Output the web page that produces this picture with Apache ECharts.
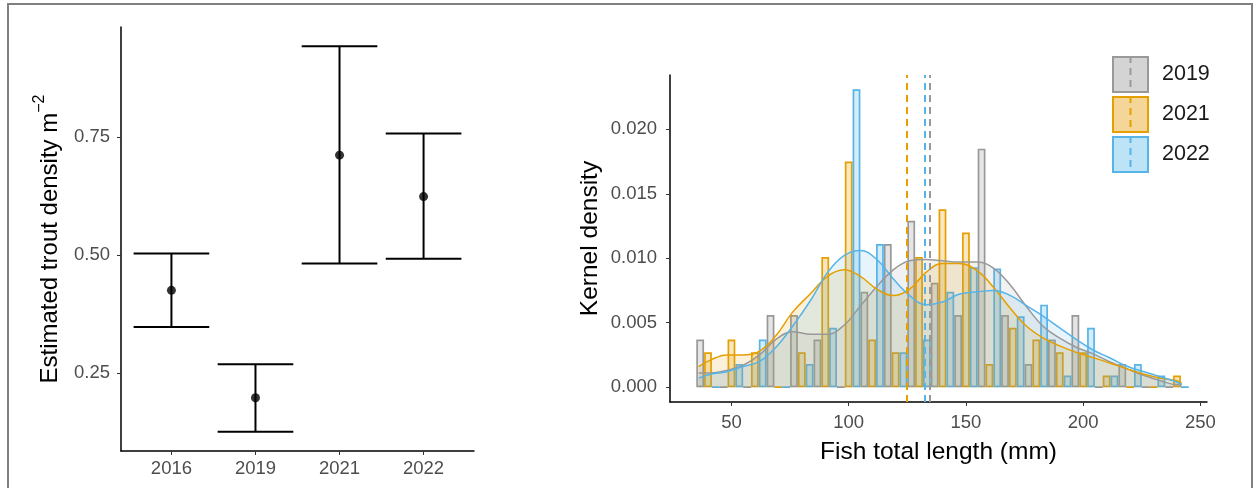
<!DOCTYPE html>
<html>
<head>
<meta charset="utf-8">
<script src="https://cdn.jsdelivr.net/npm/echarts@6/dist/echarts.min.js"></script>
<style>
  html, body { margin: 0; padding: 0; background: #fff; }
  #main { width: 1257px; height: 488px; }
</style>
</head>
<body>
<div id="main"></div>
<script>
// left panel: estimated trout density per survey year
var surveyYears = ['2016', '2019', '2021', '2022'];
var densityEst = [0.425, 0.197, 0.712, 0.624];
var densityLow = [0.347, 0.125, 0.482, 0.492];
var densityHigh = [0.503, 0.268, 0.943, 0.758];

// right panel: length histograms (density scale), binwidth 10 mm
var binMid = [40, 50, 60, 70, 80, 90, 100, 110, 120, 130, 140, 150, 160, 170, 180, 190, 200, 210, 220, 230, 240];
var hist2019 = [0.0037, 0, 0, 0.0056, 0.0056, 0.0037, 0, 0.0074, 0.0111, 0.0129, 0.0081, 0.0056, 0.0185, 0.0056, 0.0018, 0.0037, 0.0056, 0, 0.0018, 0, 0];
var hist2021 = [0.0027, 0.0037, 0.0027, 0, 0.0027, 0.0101, 0.0175, 0.0037, 0.0027, 0.0101, 0.0138, 0.0120, 0.0018, 0.0046, 0.0037, 0.0027, 0.0027, 0.0009, 0, 0, 0.0009];
var hist2022 = [0, 0.0018, 0.0037, 0, 0.0018, 0.0046, 0.0231, 0.0111, 0.0027, 0.0037, 0.0074, 0.0093, 0.0092, 0.0055, 0.0064, 0.0009, 0.0046, 0.0009, 0.0018, 0.0009, 0];

// kernel density curves
var kdeX = [36, 41, 48, 55, 62, 69, 76, 84, 91, 98, 105, 112, 119, 126, 133, 140, 147, 155, 162, 169, 176, 183, 190, 197, 204, 211, 219, 226, 233, 240, 242];
var kde2019 = [0.0011, 0.0011, 0.0013, 0.0017, 0.0025, 0.0037, 0.0043, 0.0041, 0.0041, 0.0048, 0.0063, 0.0078, 0.0091, 0.0098, 0.0099, 0.0098, 0.0097, 0.0097, 0.0092, 0.0079, 0.0062, 0.0047, 0.0038, 0.0031, 0.0026, 0.0020, 0.0014, 0.0009, 0.0005, 0.0002, 0.0002];
var kde2021 = [0.0016, 0.0021, 0.0025, 0.0025, 0.0028, 0.0040, 0.0058, 0.0073, 0.0086, 0.0091, 0.0086, 0.0076, 0.0071, 0.0076, 0.0089, 0.0096, 0.0096, 0.0090, 0.0077, 0.0061, 0.0047, 0.0038, 0.0032, 0.0027, 0.0023, 0.0019, 0.0014, 0.0010, 0.0007, 0.0005, 0.0003];
var kde2022 = [0.0007, 0.0010, 0.0012, 0.0016, 0.0020, 0.0031, 0.0047, 0.0068, 0.0089, 0.0102, 0.0106, 0.0099, 0.0084, 0.0071, 0.0064, 0.0066, 0.0072, 0.0074, 0.0075, 0.0071, 0.0063, 0.0055, 0.0046, 0.0037, 0.0029, 0.0023, 0.0016, 0.0012, 0.0008, 0.0004, 0.0002];

// mean lengths (dashed lines)
var meanLength = { '2019': 134.6, '2021': 124.7, '2022': 132.4 };

var lenYears = ['2019', '2021', '2022'];
var lineCol = { '2019': '#999999', '2021': '#E69F00', '2022': '#56B4E9' };
var barFill = { '2019': 'rgba(153,153,153,0.25)', '2021': 'rgba(230,159,0,0.25)', '2022': 'rgba(86,180,233,0.25)' };
var areaFill = { '2019': 'rgba(153,153,153,0.2)', '2021': 'rgba(230,159,0,0.2)', '2022': 'rgba(86,180,233,0.2)' };
var keyFill = { '2019': '#d4d4d4', '2021': '#f5d699', '2022': '#bde3f7' };
var histBy = { '2019': hist2019, '2021': hist2021, '2022': hist2022 };
var kdeBy = { '2019': kde2019, '2021': kde2021, '2022': kde2022 };

var FONT = '"Liberation Sans", Arial, sans-serif';

function pairs(xs, ys) {
  return xs.map(function (x, i) { return [x, ys[i]]; });
}

function keyIcon(yr) {
  var svg = '<svg xmlns="http://www.w3.org/2000/svg" width="37" height="37" viewBox="0 0 37 37">' +
    '<rect x="1" y="1" width="35" height="35" fill="' + keyFill[yr] + '" stroke="' + lineCol[yr] + '" stroke-width="2"/>' +
    '<line x1="18.5" y1="0" x2="18.5" y2="37" stroke="' + lineCol[yr] + '" stroke-width="2" stroke-dasharray="7,5"/>' +
    '</svg>';
  return 'image://data:image/svg+xml;charset=utf-8,' + encodeURIComponent(svg);
}

var chart = echarts.init(document.getElementById('main'));

var series = [];

// left panel: error bars + points
series.push({
  type: 'custom',
  xAxisIndex: 0,
  yAxisIndex: 0,
  data: surveyYears.map(function (y, i) { return [i + 1, densityLow[i], densityHigh[i]]; }),
  renderItem: function (params, api) {
    var x = api.value(0);
    var lo = api.coord([x, api.value(1)]);
    var hi = api.coord([x, api.value(2)]);
    var l = api.coord([x - 0.45, 0])[0];
    var r = api.coord([x + 0.45, 0])[0];
    var st = { stroke: '#000', lineWidth: 2 };
    return {
      type: 'group',
      children: [
        { type: 'line', shape: { x1: hi[0], y1: hi[1], x2: lo[0], y2: lo[1] }, style: st },
        { type: 'line', shape: { x1: l, y1: hi[1], x2: r, y2: hi[1] }, style: st },
        { type: 'line', shape: { x1: l, y1: lo[1], x2: r, y2: lo[1] }, style: st }
      ]
    };
  },
  z: 2
});
series.push({
  type: 'scatter',
  xAxisIndex: 0,
  yAxisIndex: 0,
  data: surveyYears.map(function (y, i) { return [i + 1, densityEst[i]]; }),
  symbolSize: 9,
  itemStyle: { color: '#000' },
  z: 3
});

// right panel: dodged histogram bars
lenYears.forEach(function (yr) {
  series.push({
    name: yr,
    type: 'bar',
    xAxisIndex: 1,
    yAxisIndex: 1,
    data: pairs(binMid, histBy[yr]),
    barGap: '0%',
    barCategoryGap: '0%',
    itemStyle: { color: barFill[yr], borderColor: lineCol[yr], borderWidth: 1.7 },
    emphasis: { disabled: true },
    z: 2
  });
});

// density curves with means
lenYears.forEach(function (yr) {
  series.push({
    name: yr,
    type: 'line',
    xAxisIndex: 1,
    yAxisIndex: 1,
    data: pairs(kdeX, kdeBy[yr]),
    smooth: 0.4,
    showSymbol: false,
    symbol: 'none',
    lineStyle: { color: lineCol[yr], width: 1.5 },
    areaStyle: { color: areaFill[yr] },
    markLine: {
      silent: true,
      symbol: ['none', 'none'],
      label: { show: false },
      lineStyle: { color: lineCol[yr], type: [7, 5], width: 2 },
      data: [{ xAxis: meanLength[yr] }]
    },
    z: 3
  });
});

var option = {
  backgroundColor: '#fff',
  animation: false,
  textStyle: { fontFamily: FONT },
  graphic: [{
    type: 'rect',
    shape: { x: 8, y: 4, width: 1244, height: 495 },
    style: { fill: 'none', stroke: '#808080', lineWidth: 2 },
    silent: true
  }],
  legend: {
    data: lenYears.map(function (yr) { return { name: yr, icon: keyIcon(yr) }; }),
    orient: 'vertical',
    left: 1112,
    top: 56,
    padding: 0,
    itemWidth: 37,
    itemHeight: 37,
    itemGap: 3,
    selectedMode: false,
    textStyle: { fontSize: 21.5, color: '#1a1a1a', fontFamily: FONT, padding: [0, 0, 0, 8] }
  },
  grid: [
    { left: 121, top: 27, width: 353, height: 424 },
    { left: 670, top: 75, width: 537, height: 327 }
  ],
  xAxis: [
    {
      type: 'value',
      gridIndex: 0,
      min: 0.4,
      max: 4.6,
      splitLine: { show: false },
      axisLine: { show: true, onZero: false, lineStyle: { color: '#000', width: 1.5 } },
      axisTick: { show: true, length: 4, customValues: [1, 2, 3, 4], lineStyle: { color: '#333' } },
      axisLabel: {
        customValues: [1, 2, 3, 4],
        margin: 8,
        fontSize: 18.5,
        color: '#4d4d4d',
        formatter: function (v) { return surveyYears[Math.round(v) - 1] || ''; }
      }
    },
    {
      type: 'value',
      gridIndex: 1,
      min: 23.8,
      max: 252.8,
      name: 'Fish total length (mm)',
      nameLocation: 'middle',
      nameGap: 38,
      nameTextStyle: { fontSize: 24.5, color: '#000' },
      splitLine: { show: false },
      axisLine: { show: true, onZero: false, lineStyle: { color: '#000', width: 1.5 } },
      axisTick: { show: true, length: 4, customValues: [50, 100, 150, 200, 250], lineStyle: { color: '#333' } },
      axisLabel: { customValues: [50, 100, 150, 200, 250], margin: 11, fontSize: 18.5, color: '#4d4d4d' }
    }
  ],
  yAxis: [
    {
      type: 'value',
      gridIndex: 0,
      min: 0.084,
      max: 0.984,
      name: '{a|Estimated trout density m}{b|−2}',
      nameLocation: 'middle',
      nameRotate: 90,
      nameGap: 59,
      nameTextStyle: {
        rich: {
          a: { fontSize: 24, color: '#000', fontFamily: FONT, lineHeight: 30, verticalAlign: 'bottom' },
          b: { fontSize: 16, color: '#000', fontFamily: FONT, lineHeight: 30, verticalAlign: 'top' }
        }
      },
      splitLine: { show: false },
      axisLine: { show: true, onZero: false, lineStyle: { color: '#000', width: 1.5 } },
      axisTick: { show: true, length: 4, customValues: [0.25, 0.5, 0.75], lineStyle: { color: '#333' } },
      axisLabel: {
        customValues: [0.25, 0.5, 0.75],
        margin: 11,
        fontSize: 18.5,
        color: '#4d4d4d',
        formatter: function (v) { return v.toFixed(2); }
      }
    },
    {
      type: 'value',
      gridIndex: 1,
      min: -0.00115,
      max: 0.02421,
      name: 'Kernel density',
      nameLocation: 'middle',
      nameRotate: 90,
      nameGap: 67,
      nameTextStyle: { fontSize: 24.5, color: '#000' },
      splitLine: { show: false },
      axisLine: { show: true, onZero: false, lineStyle: { color: '#000', width: 1.5 } },
      axisTick: { show: true, length: 4, customValues: [0, 0.005, 0.01, 0.015, 0.02], lineStyle: { color: '#333' } },
      axisLabel: {
        customValues: [0, 0.005, 0.01, 0.015, 0.02],
        margin: 13,
        fontSize: 18.5,
        color: '#4d4d4d',
        formatter: function (v) { return v.toFixed(3); }
      }
    }
  ],
  series: series
};

chart.setOption(option);
window.addEventListener('resize', chart.resize);
</script>
</body>
</html>
